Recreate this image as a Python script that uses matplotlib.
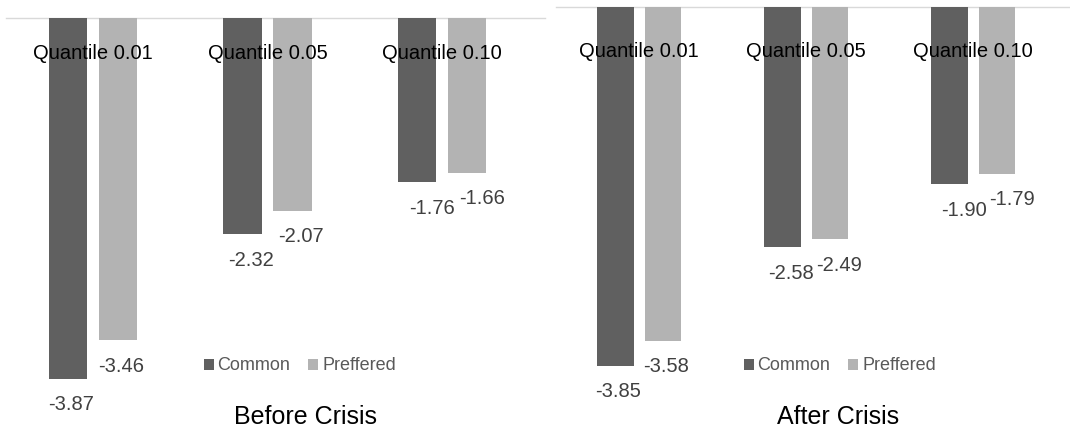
import numpy as np
import matplotlib
matplotlib.use("Agg")
import matplotlib.pyplot as plt

plt.rcParams['font.family'] = ['Liberation Sans', 'DejaVu Sans']

quantiles = ["Quantile 0.01", "Quantile 0.05", "Quantile 0.10"]
series = ["Common", "Preffered"]
before_common = [-3.87, -2.32, -1.76]
before_pref = [-3.46, -2.07, -1.66]
after_common = [-3.85, -2.58, -1.90]
after_pref = [-3.58, -2.49, -1.79]
titles = ["Before Crisis", "After Crisis"]

W, H = 1070, 432
DPI = 100
COMMON = "#606060"
PREF = "#b3b3b3"
PX = 72.0 / DPI  # points per pixel

fig = plt.figure(figsize=(W / DPI, H / DPI), dpi=DPI)


def px_box(x0, x1, y_top, y_bot):
    return [x0 / W, 1 - y_bot / H, (x1 - x0) / W, (y_bot - y_top) / H]


def panel(box, xlim, ylim, common, pref, cat_y, legend_xy):
    ax = fig.add_axes(box)
    x = np.arange(len(quantiles))
    w = 0.22
    off = 0.143
    b1 = ax.bar(x - off, common, w, color=COMMON, label=series[0], zorder=3)
    b2 = ax.bar(x + off, pref, w, color=PREF, label=series[1], zorder=3)

    # value labels just under the bar ends
    nudge = [3, 9, 15]
    for bars in (b1, b2):
        for i, r in enumerate(bars):
            v = r.get_height()
            ax.annotate(f"{v:.2f}", (r.get_x() + r.get_width() / 2, v),
                        xytext=(nudge[i] * PX, -26 * PX), textcoords="offset points",
                        ha="center", va="center", fontsize=14.5, color="#404040")

    for i, q in enumerate(quantiles):
        ax.text(i, cat_y, q, ha="center", va="baseline", fontsize=14.5,
                color="black", zorder=4)

    ax.set_xlim(*xlim)
    ax.set_ylim(*ylim)
    for s in ("left", "right", "bottom"):
        ax.spines[s].set_visible(False)
    ax.spines["top"].set_color("#d9d9d9")
    ax.spines["top"].set_linewidth(1.0)
    ax.set_xticks([])
    ax.set_yticks([])
    ax.patch.set_alpha(0)

    ax.legend(loc="center left", bbox_to_anchor=(legend_xy[0] / W, 1 - legend_xy[1] / H),
              bbox_transform=fig.transFigure, ncol=2, frameon=False,
              handlelength=0.55, handleheight=0.55, handletextpad=0.2,
              columnspacing=1.0, borderpad=0, borderaxespad=0,
              fontsize=13, labelcolor="#595959")
    return ax


panel(px_box(5.5, 545, 18, H), (-0.5, 2.59), (-(H - 18) / 93.2, 0),
      before_common, before_pref, -0.445, (204, 366))
panel(px_box(555.5, W, 7, H), (-0.5, 2.58), (-(H - 7) / 93.2, 0),
      after_common, after_pref, -0.536, (744, 366))

fig.text(306 / W, 1 - 417 / H, titles[0], ha="center", va="center", fontsize=18)
fig.text(838 / W, 1 - 417 / H, titles[1], ha="center", va="center", fontsize=18)

fig.savefig("out.png", dpi=DPI)
